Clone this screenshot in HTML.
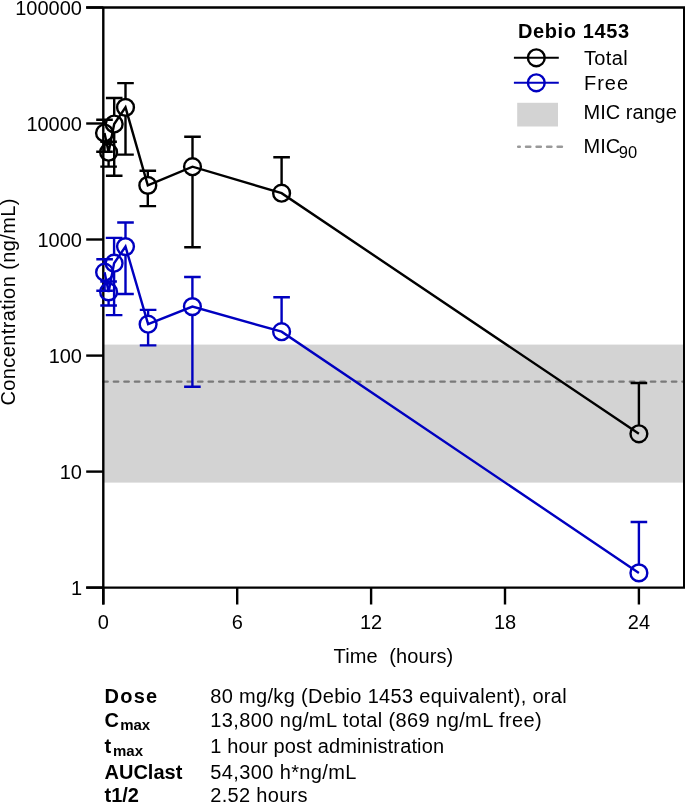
<!DOCTYPE html>
<html><head><meta charset="utf-8"><style>
html,body{margin:0;padding:0;background:#fff;}
body{width:685px;height:803px;overflow:hidden;}
svg{display:block;will-change:transform;}
.t{font-family:"Liberation Sans",sans-serif;font-size:20px;fill:#000;}
.b{font-weight:bold;}
.sub{font-size:16.5px;}
.sb{font-size:15px;}
</style></head><body>
<svg width="685" height="803" viewBox="0 0 685 803">
<rect width="685" height="803" fill="#fff"/>
<rect x="103.3" y="344.6" width="580.5" height="138.0" fill="#d3d3d3"/>
<line x1="103.30" y1="381.6" x2="683" y2="381.6" stroke="#7a7a7a" stroke-width="2.4" stroke-dasharray="4.4 6.13" stroke-linecap="round"/>
<path d="M86.2 7.5H684.8M684.2 6.35V588.75M86.2 587.6H684.8M103.3 7.5V604.5" stroke="#000" stroke-width="2.4" fill="none"/>
<line x1="86.2" y1="7.5" x2="103.3" y2="7.5" stroke="#000" stroke-width="2.4"/>
<text x="82.0" y="15.1" text-anchor="end" class="t">100000</text>
<line x1="86.2" y1="123.5" x2="103.3" y2="123.5" stroke="#000" stroke-width="2.4"/>
<text x="82.0" y="131.1" text-anchor="end" class="t">10000</text>
<line x1="86.2" y1="239.5" x2="103.3" y2="239.5" stroke="#000" stroke-width="2.4"/>
<text x="82.0" y="247.1" text-anchor="end" class="t">1000</text>
<line x1="86.2" y1="355.6" x2="103.3" y2="355.6" stroke="#000" stroke-width="2.4"/>
<text x="82.0" y="363.2" text-anchor="end" class="t">100</text>
<line x1="86.2" y1="471.6" x2="103.3" y2="471.6" stroke="#000" stroke-width="2.4"/>
<text x="82.0" y="479.2" text-anchor="end" class="t">10</text>
<line x1="86.2" y1="587.6" x2="103.3" y2="587.6" stroke="#000" stroke-width="2.4"/>
<text x="82.0" y="595.2" text-anchor="end" class="t">1</text>
<line x1="103.3" y1="587.6" x2="103.3" y2="604.5" stroke="#000" stroke-width="2.4"/>
<text x="103.3" y="629.1" text-anchor="middle" class="t">0</text>
<line x1="237.2" y1="587.6" x2="237.2" y2="604.5" stroke="#000" stroke-width="2.4"/>
<text x="237.2" y="629.1" text-anchor="middle" class="t">6</text>
<line x1="371.1" y1="587.6" x2="371.1" y2="604.5" stroke="#000" stroke-width="2.4"/>
<text x="371.1" y="629.1" text-anchor="middle" class="t">12</text>
<line x1="505.0" y1="587.6" x2="505.0" y2="604.5" stroke="#000" stroke-width="2.4"/>
<text x="505.0" y="629.1" text-anchor="middle" class="t">18</text>
<line x1="638.9" y1="587.6" x2="638.9" y2="604.5" stroke="#000" stroke-width="2.4"/>
<text x="638.9" y="629.1" text-anchor="middle" class="t">24</text>
<text x="333.6" y="662.8" class="t" xml:space="preserve" textLength="119.6" lengthAdjust="spacing">Time  (hours)</text>
<text transform="translate(15.2,405.6) rotate(-90)" class="t" textLength="207.1" lengthAdjust="spacing">Concentration (ng/mL)</text>
<polyline points="104.5,133.0 108.6,152.2 114.2,124.0 125.5,107.4 147.8,185.4 192.5,166.7 281.6,193.2 638.9,433.8" fill="none" stroke="#000" stroke-width="2.4" stroke-linejoin="miter"/>
<path d="M104.5 124.6V119.8M96.2 119.8H112.8" stroke="#000" stroke-width="2.4" fill="none"/>
<path d="M104.5 141.4V151.8M96.2 151.8H112.8" stroke="#000" stroke-width="2.4" fill="none"/>
<path d="M108.6 143.8V141.8M100.3 141.8H116.9" stroke="#000" stroke-width="2.4" fill="none"/>
<path d="M108.6 160.6V166.6M100.3 166.6H116.9" stroke="#000" stroke-width="2.4" fill="none"/>
<path d="M114.2 115.6V98.0M105.9 98.0H122.5" stroke="#000" stroke-width="2.4" fill="none"/>
<path d="M114.2 132.4V175.7M105.9 175.7H122.5" stroke="#000" stroke-width="2.4" fill="none"/>
<path d="M125.5 99.0V83.1M117.2 83.1H133.8" stroke="#000" stroke-width="2.4" fill="none"/>
<path d="M125.5 115.8V154.6M117.2 154.6H133.8" stroke="#000" stroke-width="2.4" fill="none"/>
<path d="M147.8 177.0V170.8M139.5 170.8H156.1" stroke="#000" stroke-width="2.4" fill="none"/>
<path d="M147.8 193.8V206.1M139.5 206.1H156.1" stroke="#000" stroke-width="2.4" fill="none"/>
<path d="M192.5 158.3V136.7M184.2 136.7H200.8" stroke="#000" stroke-width="2.4" fill="none"/>
<path d="M192.5 175.1V247.2M184.2 247.2H200.8" stroke="#000" stroke-width="2.4" fill="none"/>
<path d="M281.6 184.8V157.3M273.3 157.3H289.9" stroke="#000" stroke-width="2.4" fill="none"/>
<path d="M638.9 425.4V383.0M630.6 383.0H647.2" stroke="#000" stroke-width="2.4" fill="none"/>
<circle cx="104.5" cy="133.0" r="8.4" fill="none" stroke="#000" stroke-width="2.4"/>
<circle cx="108.6" cy="152.2" r="8.4" fill="none" stroke="#000" stroke-width="2.4"/>
<circle cx="114.2" cy="124.0" r="8.4" fill="none" stroke="#000" stroke-width="2.4"/>
<circle cx="125.5" cy="107.4" r="8.4" fill="none" stroke="#000" stroke-width="2.4"/>
<circle cx="147.8" cy="185.4" r="8.4" fill="none" stroke="#000" stroke-width="2.4"/>
<circle cx="192.5" cy="166.7" r="8.4" fill="none" stroke="#000" stroke-width="2.4"/>
<circle cx="281.6" cy="193.2" r="8.4" fill="none" stroke="#000" stroke-width="2.4"/>
<circle cx="638.9" cy="433.8" r="8.4" fill="none" stroke="#000" stroke-width="2.4"/>
<polyline points="104.6,272.2 108.6,291.9 114.1,263.2 125.5,246.6 148.1,324.2 192.4,306.6 281.6,331.7 638.9,572.9" fill="none" stroke="#0000c0" stroke-width="2.4" stroke-linejoin="miter"/>
<path d="M104.6 263.8V259.3M96.3 259.3H112.9" stroke="#0000c0" stroke-width="2.4" fill="none"/>
<path d="M104.6 280.6V290.7M96.3 290.7H112.9" stroke="#0000c0" stroke-width="2.4" fill="none"/>
<path d="M108.6 283.5V281.5M100.3 281.5H116.9" stroke="#0000c0" stroke-width="2.4" fill="none"/>
<path d="M108.6 300.3V305.5M100.3 305.5H116.9" stroke="#0000c0" stroke-width="2.4" fill="none"/>
<path d="M114.1 254.8V237.9M105.8 237.9H122.4" stroke="#0000c0" stroke-width="2.4" fill="none"/>
<path d="M114.1 271.6V315.1M105.8 315.1H122.4" stroke="#0000c0" stroke-width="2.4" fill="none"/>
<path d="M125.5 238.2V222.5M117.2 222.5H133.8" stroke="#0000c0" stroke-width="2.4" fill="none"/>
<path d="M125.5 255.0V294.0M117.2 294.0H133.8" stroke="#0000c0" stroke-width="2.4" fill="none"/>
<path d="M148.1 315.8V309.9M139.8 309.9H156.4" stroke="#0000c0" stroke-width="2.4" fill="none"/>
<path d="M148.1 332.6V345.4M139.8 345.4H156.4" stroke="#0000c0" stroke-width="2.4" fill="none"/>
<path d="M192.4 298.2V277.0M184.1 277.0H200.7" stroke="#0000c0" stroke-width="2.4" fill="none"/>
<path d="M192.4 315.0V386.8M184.1 386.8H200.7" stroke="#0000c0" stroke-width="2.4" fill="none"/>
<path d="M281.6 323.3V297.2M273.3 297.2H289.9" stroke="#0000c0" stroke-width="2.4" fill="none"/>
<path d="M638.9 564.5V522.0M630.6 522.0H647.2" stroke="#0000c0" stroke-width="2.4" fill="none"/>
<circle cx="104.6" cy="272.2" r="8.4" fill="none" stroke="#0000c0" stroke-width="2.4"/>
<circle cx="108.6" cy="291.9" r="8.4" fill="none" stroke="#0000c0" stroke-width="2.4"/>
<circle cx="114.1" cy="263.2" r="8.4" fill="none" stroke="#0000c0" stroke-width="2.4"/>
<circle cx="125.5" cy="246.6" r="8.4" fill="none" stroke="#0000c0" stroke-width="2.4"/>
<circle cx="148.1" cy="324.2" r="8.4" fill="none" stroke="#0000c0" stroke-width="2.4"/>
<circle cx="192.4" cy="306.6" r="8.4" fill="none" stroke="#0000c0" stroke-width="2.4"/>
<circle cx="281.6" cy="331.7" r="8.4" fill="none" stroke="#0000c0" stroke-width="2.4"/>
<circle cx="638.9" cy="572.9" r="8.4" fill="none" stroke="#0000c0" stroke-width="2.4"/>
<text x="518" y="37.7" class="t b" textLength="111" lengthAdjust="spacing">Debio 1453</text>
<line x1="513.9" y1="57.8" x2="558.8" y2="57.8" stroke="#000" stroke-width="2.1"/>
<circle cx="536.3" cy="57.8" r="8.4" fill="none" stroke="#000" stroke-width="2.4"/>
<text x="583.9" y="64.8" class="t" textLength="43.75" lengthAdjust="spacing">Total</text>
<line x1="513.9" y1="82.8" x2="558.8" y2="82.8" stroke="#0000c0" stroke-width="2.1"/>
<circle cx="536.3" cy="82.8" r="8.4" fill="none" stroke="#0000c0" stroke-width="2.4"/>
<text x="584.0" y="89.8" class="t" textLength="44.00" lengthAdjust="spacing">Free</text>
<rect x="517.2" y="102.8" width="40.8" height="23.7" fill="#d3d3d3"/>
<text x="583.5" y="118.9" class="t">MIC range</text>
<line x1="518.15" y1="146.8" x2="562.2" y2="146.8" stroke="#999" stroke-width="2.4" stroke-dasharray="4.4 6.13" stroke-dashoffset="2.7" stroke-linecap="round"/>
<text x="583.5" y="153.4" class="t">MIC<tspan class="sub" dx="-1.3" dy="4.6">90</tspan></text>
<text x="104.5" y="703.3" class="t b" textLength="52.7" lengthAdjust="spacing">Dose</text>
<text x="210.3" y="703.3" class="t" textLength="356.4" lengthAdjust="spacing">80 mg/kg (Debio 1453 equivalent), oral</text>
<text x="104.5" y="726.6" class="t b">C<tspan class="sb" dx="1.2" dy="3.6">max</tspan></text>
<text x="210.3" y="726.6" class="t" textLength="331.4" lengthAdjust="spacing">13,800 ng/mL total (869 ng/mL free)</text>
<text x="104.5" y="752.8" class="t b">t<tspan class="sb" dx="1.8" dy="3.6">max</tspan></text>
<text x="210.3" y="752.8" class="t" textLength="233.8" lengthAdjust="spacing">1 hour post administration</text>
<text x="104.5" y="778.6" class="t b">AUClast</text>
<text x="210.3" y="778.6" class="t" textLength="146.1" lengthAdjust="spacing">54,300 h*ng/mL</text>
<text x="104.5" y="802.0" class="t b">t1/2</text>
<text x="210.3" y="802.0" class="t" textLength="97.3" lengthAdjust="spacing">2.52 hours</text>
</svg>
</body></html>
